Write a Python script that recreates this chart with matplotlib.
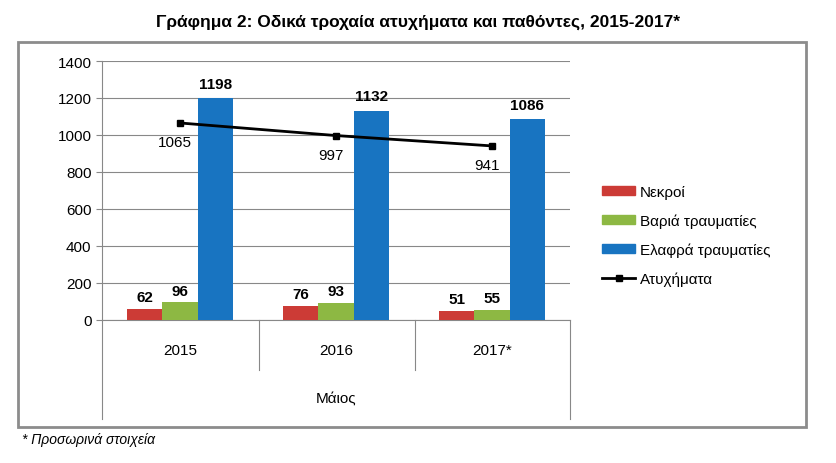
import matplotlib
matplotlib.use("Agg")
import matplotlib.pyplot as plt
from matplotlib.patches import Rectangle
from matplotlib.lines import Line2D

years = ["2015", "2016", "2017*"]
nekroi = [62, 76, 51]
varia = [96, 93, 55]
elafra = [1198, 1132, 1086]
atyx = [1065, 997, 941]
yticks = [0, 200, 400, 600, 800, 1000, 1200, 1400]

plt.rcParams['font.family'] = ['Liberation Sans Narrow', 'Liberation Sans', 'DejaVu Sans']
W, H = 836, 464
fig = plt.figure(figsize=(W/100, H/100), dpi=100)
def fx(p): return p/W
def fy(p): return 1-p/H

fig.text(0.5, fy(22), "Γράφημα 2: Οδικά τροχαία ατυχήματα και παθόντες, 2015-2017*",
         ha='center', va='center', fontsize=12.5, fontweight='bold')
fig.patches.append(Rectangle((fx(18), fy(428)), fx(806-18), (428-43)/H, transform=fig.transFigure,
                             fill=False, edgecolor='#8c8c8c', lw=2))
fig.text(fx(22), fy(440), "* Προσωρινά στοιχεία", ha='left', va='center', fontsize=10, style='italic')

ax = fig.add_axes([fx(102), fy(321), fx(570-102), (321-62)/H])
x = list(range(len(years)))
w = 0.225
ax.bar([i - w for i in x], nekroi, w, color='#CC3B36', zorder=3)
ax.bar(x, varia, w, color='#8DB843', zorder=3)
ax.bar([i + w for i in x], elafra, w, color='#1874C1', zorder=3)
ax.plot(x, atyx, color='black', lw=2, marker='s', ms=5, zorder=4)
for i in x:
    ax.text(i - w, nekroi[i] + 25, str(nekroi[i]), ha='center', va='bottom', fontsize=11, fontweight='bold')
    ax.text(i, varia[i] + 25, str(varia[i]), ha='center', va='bottom', fontsize=11, fontweight='bold')
    ax.text(i + w, elafra[i] + 40, str(elafra[i]), ha='center', va='bottom', fontsize=11, fontweight='bold')
    ax.text(i - 0.03, atyx[i] - 65, str(atyx[i]), ha='center', va='top', fontsize=11)
ax.set_xlim(-0.5, 2.5)
ax.set_ylim(0, 1400)
ax.set_yticks(yticks)
ax.tick_params(axis='y', length=4, labelsize=11, color='#888888')
ax.set_xticks([])
ax.grid(axis='y', color='#888888', lw=0.8, zorder=0)
for s in ['top', 'right']:
    ax.spines[s].set_visible(False)
ax.spines['left'].set_color('#888888')
ax.spines['bottom'].set_color('#888888')

# category axis
for px, bot in [(102, 420), (259, 371), (415, 371), (570, 420)]:
    fig.add_artist(Line2D([fx(px), fx(px)], [fy(321), fy(bot)], color='#888888', lw=0.8))
for i, lab in enumerate(years):
    ax.text(i, -160, lab, ha='center', va='center', fontsize=11, transform=ax.transData, clip_on=False)
fig.text(fx(336), fy(400), "Μάιος", ha='center', va='center', fontsize=11)

handles = [Rectangle((0, 0), 1, 1, color='#CC3B36'), Rectangle((0, 0), 1, 1, color='#8DB843'),
           Rectangle((0, 0), 1, 1, color='#1874C1'),
           Line2D([], [], color='black', lw=2, marker='s', ms=4)]
fig.legend(handles, ["Νεκροί", "Βαριά τραυματίες", "Ελαφρά τραυματίες", "Ατυχήματα"],
           loc='upper left', bbox_to_anchor=(fx(588), fy(172)), frameon=False,
           fontsize=11, labelspacing=0.95, handlelength=2.2, handleheight=0.6, handletextpad=0.3)
fig.savefig("out.png", dpi=100)
